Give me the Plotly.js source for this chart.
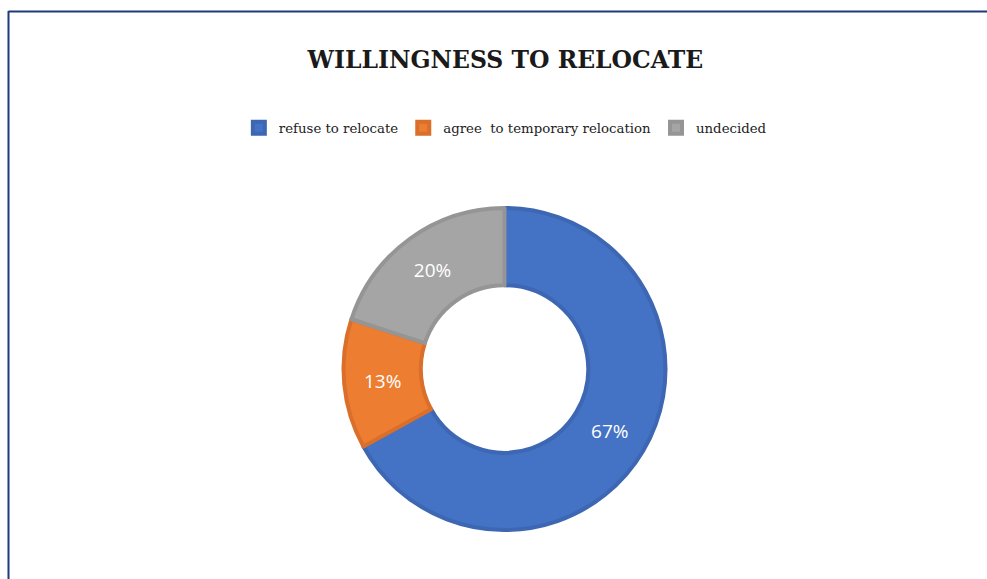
<!DOCTYPE html>
<html>
<head>
<meta charset="utf-8">
<script src="https://cdn.plot.ly/plotly-3.0.1.min.js"></script>
<style>
html,body{margin:0;padding:0;background:#fff;}
#chart{width:987px;height:579px;}
</style>
</head>
<body>
<div id="chart"></div>
<script>
const labels = ["refuse to relocate", "agree  to temporary relocation", "undecided"];
const values = [67, 13, 20];
const colors = ["#4472c4", "#ed7d31", "#a5a5a5"];
const borderColors = ["#3d67b3", "#d96f2a", "#959595"];

const W = 987, H = 579;
const cx = 504.5, cy = 369, R = 161;

const trace = {
  type: "pie",
  labels: labels,
  values: values,
  hole: 0.52,
  sort: false,
  direction: "clockwise",
  rotation: 0,
  textinfo: "percent",
  texttemplate: "%{percent:.0%}",
  textposition: "inside",
  insidetextorientation: "horizontal",
  textfont: {color: "#ffffff", family: "Open Sans, Liberation Sans, sans-serif", size: 19},
  marker: {colors: colors, line: {color: borderColors, width: 4}},
  domain: {x: [(cx - R) / W, (cx + R) / W], y: [(H - cy - R) / H, (H - cy + R) / H]},
  hoverinfo: "label+percent"
};

const layout = {
  width: W, height: H,
  margin: {l: 0, r: 0, t: 0, b: 0},
  paper_bgcolor: "#ffffff",
  showlegend: true,
  title: {
    text: "<b>WILLINGNESS TO RELOCATE</b>",
    font: {family: "DejaVu Serif, serif", size: 23.5, color: "#1a1a1a"},
    x: 0.512, xanchor: "center",
    y: 1 - 60 / H, yanchor: "middle"
  },
  legend: {
    orientation: "h",
    x: 0.512, xanchor: "center",
    y: 1 - 128 / H, yanchor: "middle",
    font: {family: "DejaVu Serif, serif", size: 13.3, color: "#222"},
    itemclick: false
  },
  shapes: [
    {type: "line", xref: "paper", yref: "paper", x0: 8.5 / W, x1: 8.5 / W, y0: 0, y1: 1 - 11 / H, line: {color: "#1f3a78", width: 2}},
    {type: "line", xref: "paper", yref: "paper", x0: 8.5 / W, x1: 1, y0: 1 - 11.5 / H, y1: 1 - 11.5 / H, line: {color: "#1f3a78", width: 2}}
  ]
};

Plotly.newPlot("chart", [trace], layout, {displayModeBar: false, staticPlot: true});
</script>
</body>
</html>
